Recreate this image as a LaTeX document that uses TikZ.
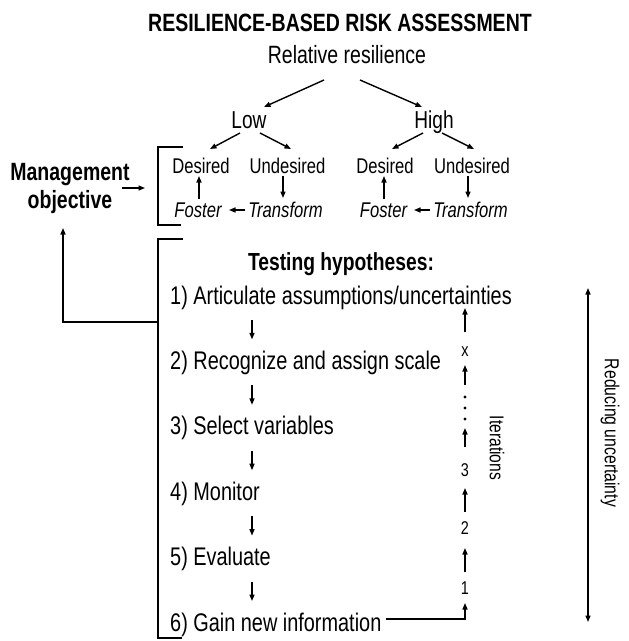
\documentclass[tikz,border=0pt]{standalone}
\usepackage{fontspec}
\setmainfont{Liberation Sans}[FakeStretch=0.78]
\usetikzlibrary{arrows.meta}
\tikzset{
 lab/.style={inner sep=0pt, text depth=0pt, font=\fontsize{#1}{#1}\selectfont, text height={0.716*#1pt}},
 labb/.style={lab=#1, font=\fontsize{#1}{#1}\selectfont\bfseries},
 labi/.style={lab=#1, font=\fontsize{#1}{#1}\selectfont\itshape},
 arr/.style={-{Triangle[length=6.5pt,width=5pt]}, line width=1.4pt},
 darr/.style={{Triangle[length=6.5pt,width=5pt]}-{Triangle[length=6.5pt,width=5pt]}, line width=1.4pt},
 brk/.style={line width=1.6pt},
}
\begin{document}
\begin{tikzpicture}[x=1pt,y=-1pt]
\useasboundingbox (0,0) rectangle (629,641);
% top part
\node[labb=25] (title) at (340,23) {RESILIENCE-BASED RISK ASSESSMENT};
\node[lab=25] (relres) at (347,55) {Relative resilience};
\node[lab=24.5] (low) at (249,120) {Low};
\node[lab=24.5] (high) at (434,120) {High};
\node[lab=21.3] (d1) at (201,166) {Desired};
\node[lab=21.3] (u1) at (287.5,166) {Undesired};
\node[lab=21.3] (d2) at (385,166) {Desired};
\node[lab=21.3] (u2) at (472,166) {Undesired};
\node[labi=21.3] (f1) at (198,210) {Foster};
\node[labi=21.3] (t1) at (285.5,210) {Transform};
\node[labi=21.3] (f2) at (383.5,210) {Foster};
\node[labi=21.3] (t2) at (470.5,210) {Transform};
\node[labb=25] (mgmt) at (70,172) {Management};
\node[labb=25] (mgmtb) at (70,200) {objective};
\coordinate (b1) at (158,186);
\coordinate (b2) at (158,322);
% lower part
\node[labb=24.7] (test) at (341,262) {Testing hypotheses:};
\node[lab=25.5, anchor=west] (i1) at (170,295) {1) Articulate assumptions/uncertainties};
\node[lab=25.5, anchor=west] (i2) at (170,360.4) {2) Recognize and assign scale};
\node[lab=25.5, anchor=west] (i3) at (170,425.8) {3) Select variables};
\node[lab=25.5, anchor=west] (i4) at (170,491.2) {4) Monitor};
\node[lab=25.5, anchor=west] (i5) at (170,556.6) {5) Evaluate};
\node[lab=25.5, anchor=west] (i6) at (170,622) {6) Gain new information};
\node[lab=18.5] (nx) at (465,350) {x};
\coordinate (dots) at (465,408);
\node[lab=18.5] (n3) at (465,470) {3};
\node[lab=18.5] (n2) at (465,528) {2};
\node[lab=18.5] (n1) at (465,588) {1};
\node[lab=20, rotate=-90] (iter) at (497,448) {Iterations};
\coordinate (rtop) at (588,288);
\coordinate (rbot) at (588,622);
\node[lab=20.2, rotate=-90] (red) at (612,433) {Reducing uncertainty};
% brackets
\draw[brk] ([shift={(25,-39)}]b1) -- ([shift={(0,-39)}]b1) -- ([shift={(0,39)}]b1) -- ([shift={(23,39)}]b1);
\draw[brk] ([shift={(25,-83)}]b2) -- ([shift={(0,-83)}]b2) -- ([shift={(0,316)}]b2) -- ([shift={(24,316)}]b2);
% tree arrows
\draw[arr] ([shift={(-23,25)}]relres.center) -- ([shift={(15,-13)}]low.center);
\draw[arr] ([shift={(13,25)}]relres.center) -- ([shift={(-12,-13)}]high.center);
\draw[arr] ([shift={(-9,13)}]low.center) -- ([shift={(9,-17)}]d1.center);
\draw[arr] ([shift={(11,13)}]low.center) -- ([shift={(3.5,-17)}]u1.center);
\draw[arr] ([shift={(-11,13)}]high.center) -- ([shift={(7,-17)}]d2.center);
\draw[arr] ([shift={(8,13)}]high.center) -- ([shift={(2,-17)}]u2.center);
\draw[arr] ([shift={(1,-11)}]f1.center) -- ([shift={(-2,10)}]d1.center);
\draw[arr] ([shift={(-4.5,10)}]u1.center) -- ([shift={(-2.5,-12)}]t1.center);
\draw[arr] ([shift={(-40.5,0)}]t1.center) -- ([shift={(31,0)}]f1.center);
\draw[arr] ([shift={(0.5,-11)}]f2.center) -- ([shift={(-1,10)}]d2.center);
\draw[arr] ([shift={(-4,10)}]u2.center) -- ([shift={(-2.5,-12)}]t2.center);
\draw[arr] ([shift={(-40.5,0)}]t2.center) -- ([shift={(30.5,0)}]f2.center);
% management
\draw[arr] ([shift={(52,16)}]mgmt.center) -- ([shift={(-13,2)}]b1);
\draw[arr] (b2) -| ([shift={(-7,28)}]mgmtb.center);
% steps
\foreach \a/\b in {i1/i2,i2/i3,i3/i4,i4/i5,i5/i6}
  \draw[arr] ([shift={(82,25)}]\a.west) -- ([shift={(82,-21)}]\b.west);
% iterations
\draw[arr] ([shift={(4,-3)}]i6.east) -| ([shift={(0,15)}]n1.center);
\draw[arr] ([shift={(0,-16)}]n1.center) -- ([shift={(0,20)}]n2.center);
\draw[arr] ([shift={(0,-16)}]n2.center) -- ([shift={(0,18)}]n3.center);
\draw[arr] ([shift={(0,-23)}]n3.center) -- ([shift={(0,20)}]dots);
\draw[arr] ([shift={(0,-23)}]dots) -- ([shift={(0,15)}]nx.center);
\draw[arr] ([shift={(0,-18)}]nx.center) -- ([shift={(295,13)}]i1.west);
\foreach \d in {-11,0,11}
  \fill ([shift={(0,\d)}]dots) circle[radius=1.7pt];
\draw[darr] (rtop) -- (rbot);
\end{tikzpicture}
\end{document}
